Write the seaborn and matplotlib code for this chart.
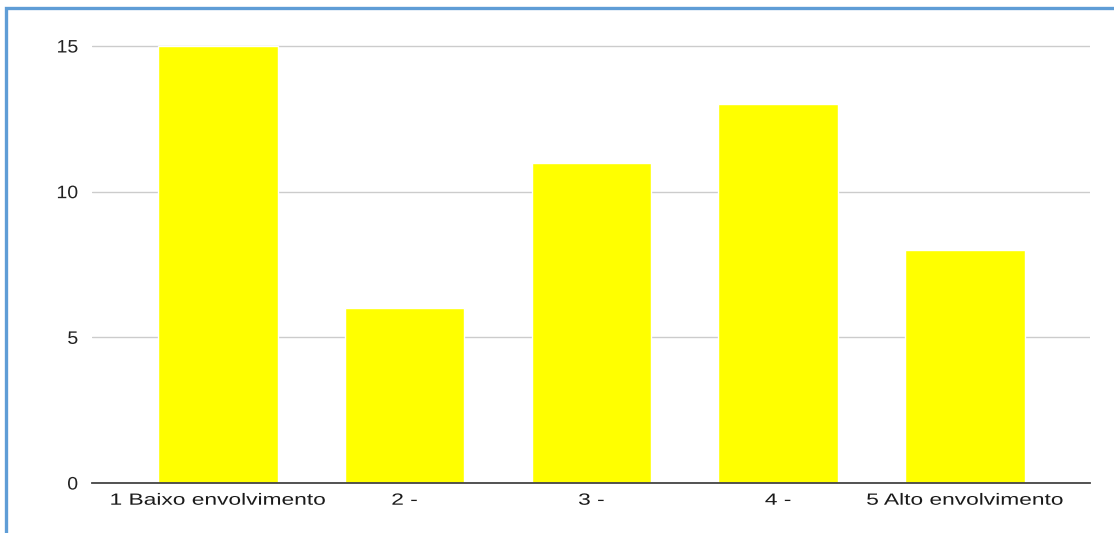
import matplotlib
matplotlib.use("Agg")
import matplotlib.pyplot as plt
import seaborn as sns
import pandas as pd
from matplotlib.patheffects import AbstractPathEffect
from matplotlib.transforms import Affine2D
from matplotlib.patches import Rectangle

# Data
categories = ["1 Baixo envolvimento", "2 -", "3 -", "4 -", "5 Alto envolvimento"]
counts = [15, 6, 11, 13, 8]
y_ticks = [0, 5, 10, 15]


class StretchX(AbstractPathEffect):
    """Draw text widened horizontally around its ink centre (or right edge)."""

    def __init__(self, sx, anchor="center"):
        super().__init__()
        self.sx = sx
        self.anchor = anchor

    def draw_path(self, renderer, gc, tpath, affine, rgbFace=None):
        ext = tpath.get_extents(affine)
        cx = ext.x1 if self.anchor == "right" else 0.5 * (ext.x0 + ext.x1)
        stretch = Affine2D().translate(-cx, 0).scale(self.sx, 1).translate(cx, 0)
        renderer.draw_path(gc, tpath, affine + stretch, rgbFace)


sns.set_style("white")
plt.rcParams["font.family"] = ["Liberation Sans", "DejaVu Sans"]

W, H = 1114, 533
fig = plt.figure(figsize=(W / 100, H / 100), dpi=100)
fig.patch.set_facecolor("white")

left, right, top, bottom = 92, 1090, 44, 483
ax = fig.add_axes([left / W, 1 - bottom / H, (right - left) / W, (bottom - top) / H])

df = pd.DataFrame({"categoria": categories, "valor": counts})
sns.barplot(data=df, x="categoria", y="valor", color="#ffff00", saturation=1,
            width=0.64, ax=ax, zorder=3)

ax.set_xlim(-0.674, 4.67)
ax.set_ylim(0, 15 * (bottom - top) / (bottom - 46))
ax.set_yticks(y_ticks)
ax.set_xlabel("")
ax.set_ylabel("")

ax.yaxis.grid(True, color="#cccccc", linewidth=1.0, zorder=0)
ax.xaxis.grid(False)
for side in ["top", "right", "left"]:
    ax.spines[side].set_visible(False)
ax.spines["bottom"].set_color("#444444")
ax.spines["bottom"].set_linewidth(1.3)
ax.spines["bottom"].set_zorder(4)

ax.tick_params(axis="x", length=0, pad=7, labelsize=11.7, labelcolor="#1a1a1a")
ax.tick_params(axis="y", length=0, pad=10, labelsize=13, labelcolor="#222222")
for lab in ax.get_xticklabels():
    lab.set_path_effects([StretchX(1.4)])
for lab in ax.get_yticklabels():
    lab.set_path_effects([StretchX(1.08, anchor="right")])

# Blue frame around the chart area
frame = Rectangle((5.5 / W, -0.1), 1.2, 1.1 - 8.5 / H, transform=fig.transFigure,
                  fill=False, edgecolor="#5f9dd6", linewidth=2.4, clip_on=False)
fig.patches.append(frame)

fig.savefig("out.png", dpi=100, facecolor="white")
